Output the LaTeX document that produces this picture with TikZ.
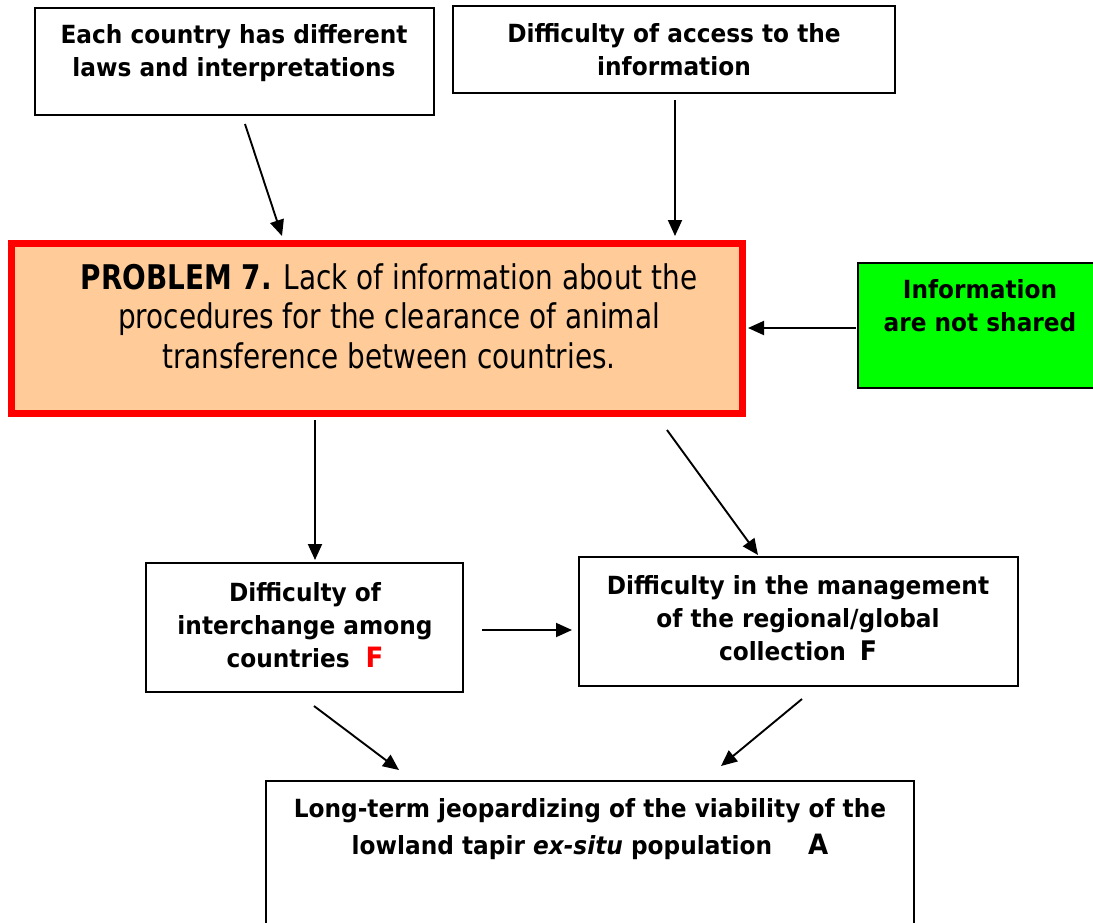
\documentclass[tikz,border=0pt]{standalone}
\usepackage{fontspec}
\setmainfont{DejaVu Sans}
\newfontfamily\nar{DejaVu Sans}[FakeStretch=0.93]
\newfontfamily\narr{DejaVu Sans}[FakeStretch=0.82]
\usetikzlibrary{arrows.meta}
\definecolor{peach}{HTML}{FFCC99}
\definecolor{lgreen}{HTML}{00FF00}
\definecolor{pred}{HTML}{FF0000}
\begin{document}
\begin{tikzpicture}[x=1pt,y=-1pt,
  box/.style={draw=black, line width=1.6pt, fill=white, inner sep=0pt, outer sep=0pt, anchor=north west},
  txt/.style={align=center, inner sep=0pt, font=\nar\bfseries\fontsize{25}{33}\selectfont},
  arr/.style={line width=1.9pt, -{Triangle[length=16pt,width=14pt]}}
]
\useasboundingbox (0,0) rectangle (1093,922);
\clip (0,0) rectangle (1093,922);

% boxes
\node[box, minimum width=399pt, minimum height=107pt] (b1) at (35,8) {};
\node[box, minimum width=442pt, minimum height=87pt] (b2) at (453,6) {};
\node[draw=pred, line width=7pt, fill=peach, inner sep=0pt, outer sep=0pt, anchor=north west,
      minimum width=731pt, minimum height=170pt] (p7) at (11.5,243.5) {};
\node[box, fill=lgreen, minimum width=250pt, minimum height=125pt] (g) at (858,263) {};
\node[box, minimum width=317pt, minimum height=129pt] (f1) at (146,563) {};
\node[box, minimum width=439pt, minimum height=129pt] (f2) at (579,557) {};
\node[box, minimum width=648pt, minimum height=170pt] (a) at (266,781) {};

% texts
\node[txt] (t1) at (234,53) {Each country has different\\laws and interpretations};
\node[txt] (t2) at (674,50) {Difficulty of access to the\\information};
\node[align=center, inner sep=0pt, font=\narr\fontsize{34}{39.5}\selectfont] (tp) at (389,316)
  {{\bfseries PROBLEM 7.} Lack of information about the\\procedures for the clearance of animal\\transference between countries.};
\node[txt] (tg) at (980,306) {Information\\are not shared};
\node[txt] (tf1) at (305,625) {Difficulty of\\interchange among\\countries\hspace{16pt}{\color{pred}\fontsize{28}{33}\selectfont F}};
\node[txt] (tf2) at (798,618) {Difficulty in the management\\of the regional/global\\collection\hspace{14pt}{\fontsize{27}{33}\selectfont F}};
\node[txt, font=\nar\bfseries\fontsize{25}{37}\selectfont] (ta) at (590,829) {Long-term jeopardizing of the viability of the\\lowland tapir \textit{ex-situ} population\hspace{36pt}{\fontsize{28}{33}\selectfont A}};

% connector endpoints
\coordinate (s1) at (245,124);  \coordinate (e1) at (282,236);
\coordinate (s2) at (675,100);  \coordinate (e2) at (675,236);
\coordinate (s3) at (856,328);  \coordinate (e3) at (748,328);
\coordinate (s4) at (315,420);  \coordinate (e4) at (315,560);
\coordinate (s5) at (667,430);  \coordinate (e5) at (758,555);
\coordinate (s6) at (482,630);  \coordinate (e6) at (572,630);
\coordinate (s7) at (314,706);  \coordinate (e7) at (399,770);
\coordinate (s8) at (802,699);  \coordinate (e8) at (721,766);

\draw[arr] (s1) -- (e1);
\draw[arr] (s2) -- (e2);
\draw[arr] (s3) -- (e3);
\draw[arr] (s4) -- (e4);
\draw[arr] (s5) -- (e5);
\draw[arr] (s6) -- (e6);
\draw[arr] (s7) -- (e7);
\draw[arr] (s8) -- (e8);
\end{tikzpicture}
\end{document}
